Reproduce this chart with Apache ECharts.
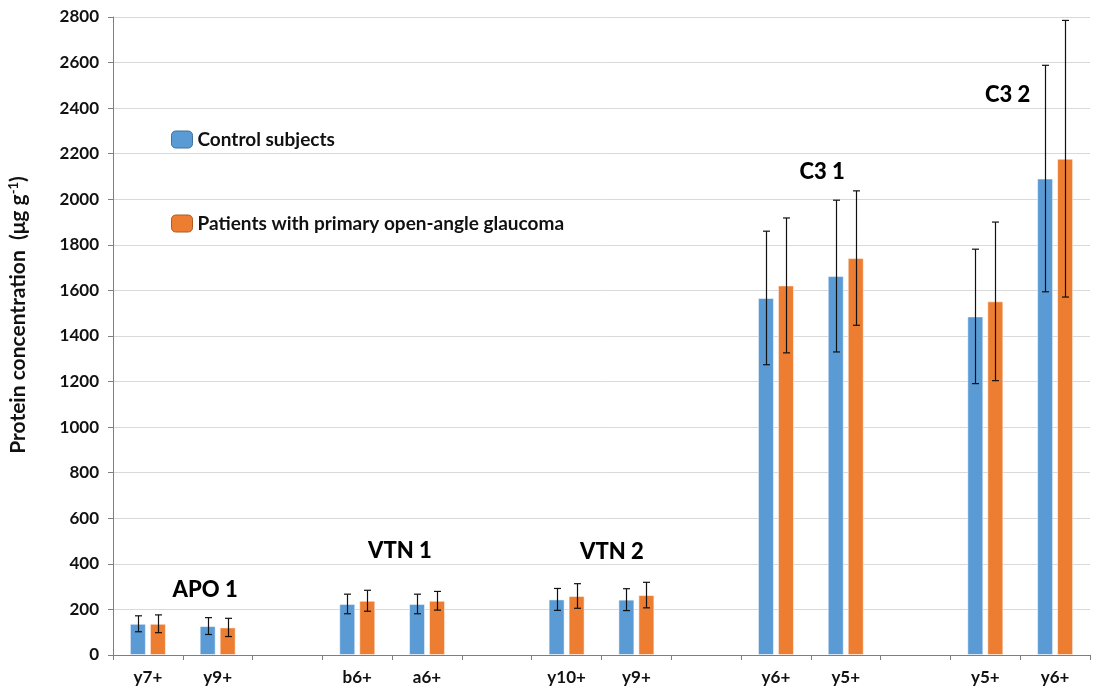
<!DOCTYPE html>
<html>
<head>
<meta charset="utf-8">
<script src="https://cdn.jsdelivr.net/npm/echarts@6/dist/echarts.min.js"></script>
<style>html,body{margin:0;padding:0;background:#fff}#c{width:1100px;height:686px}</style>
</head>
<body>
<div id="c"></div>
<script>
// ---- data ----
const categories = ['y7+','y9+','','b6+','a6+','','y10+','y9+','','y6+','y5+','','y5+','y6+'];
const controlMean = [137,127,null,224,224,null,244,243,null,1567,1663,null,1486,2091];
const controlSD   = [35,37,null,43,43,null,48,48,null,293,333,null,295,497];
const patientMean = [137,121,null,238,238,null,259,263,null,1622,1742,null,1552,2178];
const patientSD   = [39,40,null,46,41,null,54,56,null,296,295,null,348,607];
const yTicks = [0,200,400,600,800,1000,1200,1400,1600,1800,2000,2200,2400,2600,2800];
const groupNames = ['APO 1','VTN 1','VTN 2','C3 1','C3 2'];
// annotation anchors (category-position units, value units)
const groupLabelX = [1.32,4.11,7.15,10.16,12.82];
const groupLabelY = [285,456,452,2120,2458];
const seriesNames = ['Control subjects','Patients with primary open-angle glaucoma'];

const BLUE = '#5B9BD5', ORANGE = '#ED7D31';
const BAR_W = 16, BAR_GAP = 4;
const FONT = 'Lato, "Open Sans", sans-serif';

function errData(mean, sd){
  const out = [];
  mean.forEach((m,i)=>{ if(m!=null) out.push([i, m - sd[i], m + sd[i]]); });
  return out;
}
function errRender(offset){
  return function(params, api){
    const x = api.value(0);
    const lo = api.coord([x, api.value(1)]);
    const hi = api.coord([x, api.value(2)]);
    const cx = Math.round(lo[0] + offset) + 0.5;
    const cap = 3.5;
    const st = {stroke:'#111', lineWidth:1.2};
    return {type:'group', children:[
      {type:'line', shape:{x1:cx,y1:hi[1],x2:cx,y2:lo[1]}, style:st},
      {type:'line', shape:{x1:cx-cap,y1:hi[1],x2:cx+cap,y2:hi[1]}, style:st},
      {type:'line', shape:{x1:cx-cap,y1:lo[1],x2:cx+cap,y2:lo[1]}, style:st}
    ]};
  };
}
const off = (BAR_W + BAR_GAP)/2;

const chart = echarts.init(document.getElementById('c'), null, {renderer:'canvas'});
chart.setOption({
  animation:false,
  backgroundColor:'#fff',
  grid:{left:113, right:10, top:17, bottom:31, containLabel:false, outerBoundsMode:'none'},
  legend:{
    orient:'vertical', left:171, top:130, padding:0,
    itemWidth:21, itemHeight:17, itemGap:65,
    textStyle:{fontFamily:FONT, fontWeight:'bold', fontSize:19, color:'#111', lineHeight:17},
    data:[
      {name:seriesNames[0], itemStyle:{borderColor:'#41719C', borderWidth:1}},
      {name:seriesNames[1], itemStyle:{borderColor:'#AE5A21', borderWidth:1}}
    ]
  },
  xAxis:[{
    type:'category', data:categories,
    axisLine:{lineStyle:{color:'#7f7f7f', width:1}},
    axisTick:{show:true, interval:0, length:5, lineStyle:{color:'#7f7f7f'}},
    axisLabel:{interval:0, margin:14, fontFamily:FONT, fontWeight:'bold', fontSize:17, color:'#111'},
    splitLine:{show:false}
  },{
    type:'value', min:0, max:14, show:false
  }],
  yAxis:{
    type:'value', min:yTicks[0], max:yTicks[yTicks.length-1], interval:200,
    name:'{a|Protein concentration  (μg g}{s|-1}{a|)}',
    nameLocation:'middle', nameGap:83, nameRotate:90,
    nameTextStyle:{
      padding:[0,0,0,42],
      rich:{
        a:{fontFamily:FONT, fontWeight:'bold', fontSize:21, color:'#111'},
        s:{fontFamily:FONT, fontWeight:'bold', fontSize:13, color:'#111', verticalAlign:'top', padding:[0,0,10,0]}
      }
    },
    axisLine:{show:true, lineStyle:{color:'#7f7f7f', width:1}},
    axisTick:{show:true, length:5, lineStyle:{color:'#7f7f7f'}},
    axisLabel:{margin:14, fontFamily:FONT, fontWeight:'bold', fontSize:17, color:'#111',
      formatter:v=>String(v)},
    splitLine:{lineStyle:{color:'#d9d9d9', width:1}}
  },
  series:[
    {name:seriesNames[0], type:'bar', data:controlMean, barWidth:BAR_W, barGap:(BAR_GAP/BAR_W*100)+'%',
      itemStyle:{color:BLUE, borderColor:'rgba(255,255,255,0.5)', borderWidth:1}, z:2},
    {name:seriesNames[1], type:'bar', data:patientMean, barWidth:BAR_W,
      itemStyle:{color:ORANGE, borderColor:'rgba(255,255,255,0.5)', borderWidth:1}, z:2},
    {type:'custom', data:errData(controlMean, controlSD), renderItem:errRender(-off), z:5, silent:true},
    {type:'custom', data:errData(patientMean, patientSD), renderItem:errRender(off), z:5, silent:true},
    {type:'scatter', xAxisIndex:1, symbolSize:0, silent:true, z:6,
      itemStyle:{opacity:1},
      data:groupNames.map((n,i)=>({name:n, value:[groupLabelX[i], groupLabelY[i]]})),
      label:{show:true, position:'inside', formatter:p=>p.name,
        fontFamily:FONT, fontWeight:900, fontSize:22, color:'#000'}}
  ]
});
</script>
</body>
</html>
